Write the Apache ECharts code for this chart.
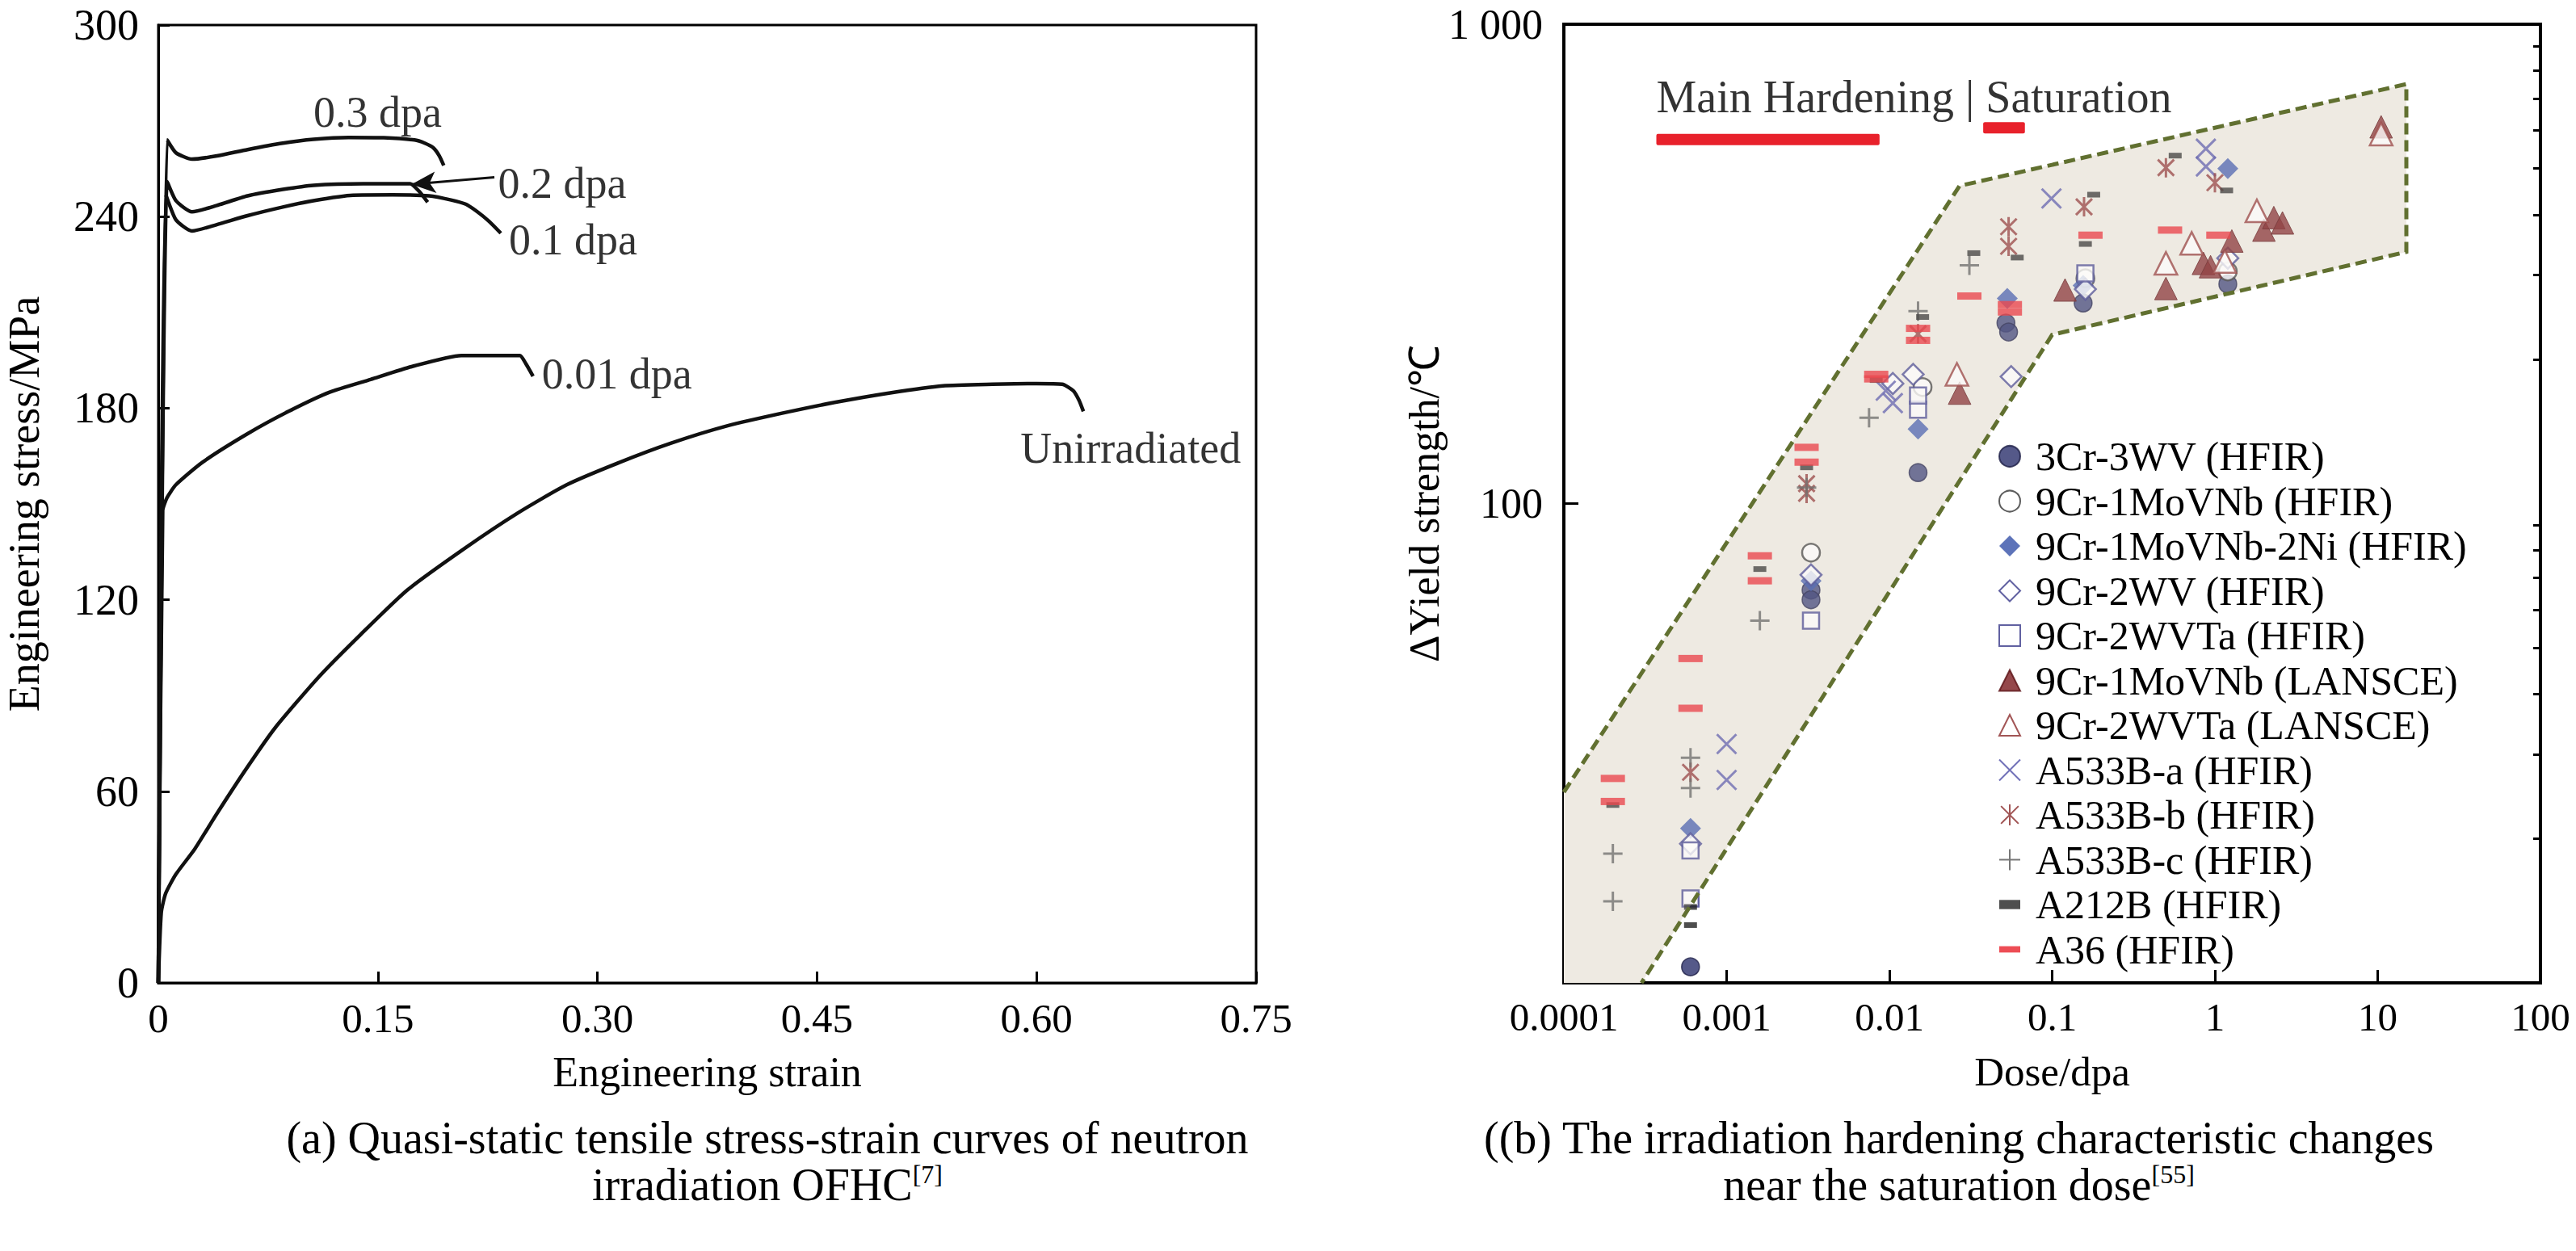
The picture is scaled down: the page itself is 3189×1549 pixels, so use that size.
<!DOCTYPE html>
<html><head><meta charset="utf-8">
<script src="https://cdn.jsdelivr.net/npm/echarts/dist/echarts.min.js"></script>
<style>html,body{margin:0;padding:0;background:#fff;}#c{width:3189px;height:1549px;}</style>
</head><body><div id="c"></div>
<script>
// ================= DATA =================
// (a) stress-strain curves: engineering strain / engineering stress (MPa)
const unirrStrain = [0, 0.002, 0.005, 0.012, 0.025, 0.04, 0.06, 0.08, 0.11, 0.138, 0.17, 0.209, 0.245, 0.279, 0.315, 0.35, 0.389, 0.43, 0.462, 0.5, 0.536, 0.57, 0.6, 0.6175, 0.625, 0.629, 0.632];
const unirrStress = [0, 22, 28, 34, 42, 53, 67, 80, 96, 109, 123, 136, 147, 156, 163, 169, 174.5, 178.8, 181.8, 184.8, 187, 187.5, 187.7, 187.5, 185.5, 182.5, 179];
const dpa001Strain = [0, 0.003, 0.006, 0.012, 0.03, 0.061, 0.089, 0.117, 0.145, 0.173, 0.207, 0.247, 0.251, 0.256];
const dpa001Stress = [0, 148, 152, 156, 163, 172, 179, 185, 189, 193, 196.5, 196.5, 194, 190];
const dpa01Strain = [0, 0.005, 0.012, 0.023, 0.04, 0.061, 0.085, 0.106, 0.133, 0.16, 0.185, 0.2, 0.21, 0.218, 0.226, 0.234];
const dpa01Stress = [0, 247, 239, 235.5, 237.5, 240.3, 243, 245, 246.7, 246.8, 246.5, 245.2, 243.9, 241.5, 238.5, 234.8];
const dpa02Strain = [0, 0.006, 0.012, 0.023, 0.04, 0.061, 0.085, 0.106, 0.14, 0.172, 0.178, 0.184];
const dpa02Stress = [0, 251, 245, 241.5, 243.5, 246.5, 248.5, 249.8, 250.3, 250.3, 248, 244.5];
const dpa03Strain = [0, 0.006, 0.012, 0.023, 0.04, 0.061, 0.085, 0.106, 0.13, 0.154, 0.175, 0.182, 0.188, 0.192, 0.195];
const dpa03Stress = [0, 264, 260, 258, 259, 261, 263, 264.2, 264.8, 264.7, 264, 263, 261.5, 259, 256];
const strainTickLabels = ['0', '0.15', '0.30', '0.45', '0.60', '0.75'];
const stressTickLabels = ['0', '60', '120', '180', '240', '300'];
const curveLabels = ['0.3 dpa', '0.2 dpa', '0.1 dpa', '0.01 dpa', 'Unirradiated'];
const curveLabelPos = [[0.106, 272.8], [0.232, 250.4], [0.2395, 232.6], [0.262, 190.7], [0.589, 167.5]];
const arrowFrom = [0.2296, 252.3];
const arrowTo = [0.173, 250.1];

// (b) irradiation hardening: dose (dpa) / delta yield strength
const s3Cr3WV = [[0.0006, 10.8], [0.0033, 66], [0.0033, 63], [0.015, 116], [0.052, 238], [0.054, 228], [0.155, 262], [1.2, 287]];
const s9Cr1MoVNb = [[0.0033, 79], [0.016, 175], [0.16, 295], [1.2, 305]];
const s9Cr1MoVNb2Ni = [[0.0006, 21], [0.0033, 69], [0.015, 143], [0.053, 268], [0.155, 285], [1.2, 500]];
const s9Cr2WV = [[0.0006, 19.5], [0.0033, 71], [0.0105, 178], [0.014, 186], [0.056, 184], [0.16, 280], [1.2, 325]];
const s9Cr2WVTa = [[0.0006, 18.9], [0.0006, 15], [0.0033, 57], [0.015, 157], [0.015, 168], [0.16, 302]];
const s9Cr1MoVNbL = [[0.027, 170], [0.12, 279], [0.5, 281], [0.85, 317], [0.94, 312], [1.27, 353], [2.0, 372], [2.3, 395], [2.6, 385], [10.5, 611]];
const s9Cr2WVTaL = [[0.026, 186], [0.5, 317], [0.72, 349], [1.15, 320], [1.81, 408], [10.5, 590]];
const sA533Ba = [[0.001, 31.5], [0.001, 26.5], [0.0095, 172], [0.0105, 162], [0.099, 433], [0.88, 550], [0.88, 505]];
const sA533Bb = [[0.0006, 27.5], [0.0031, 110], [0.0031, 105], [0.015, 226], [0.054, 378], [0.054, 344], [0.157, 416], [0.5, 502], [1.0, 467]];
const sA533Bc = [[0.0002, 18.6], [0.0002, 14.8], [0.0006, 29.5], [0.0006, 25.5], [0.0016, 57], [0.0031, 108], [0.0075, 151], [0.015, 252], [0.031, 314]];
const sA212B = [[0.0002, 23.5], [0.0006, 14.4], [0.0006, 13.2], [0.0016, 73], [0.0031, 119], [0.0083, 181], [0.016, 245], [0.033, 333], [0.061, 326], [0.16, 348], [0.18, 441], [0.57, 532], [1.18, 450]];
const sA36 = [[0.0002, 26.7], [0.0002, 23.9], [0.0006, 47.5], [0.0006, 37.4], [0.0016, 77.8], [0.0016, 69], [0.0031, 131], [0.0031, 122], [0.0083, 186], [0.0083, 182], [0.015, 232], [0.015, 219], [0.031, 271], [0.055, 260], [0.055, 251], [0.172, 363], [0.53, 372], [1.05, 363]];
const legendNames = ['3Cr-3WV (HFIR)', '9Cr-1MoVNb (HFIR)', '9Cr-1MoVNb-2Ni (HFIR)', '9Cr-2WV (HFIR)', '9Cr-2WVTa (HFIR)', '9Cr-1MoVNb (LANSCE)', '9Cr-2WVTa (LANSCE)', 'A533B-a (HFIR)', 'A533B-b (HFIR)', 'A533B-c (HFIR)', 'A212B (HFIR)', 'A36 (HFIR)'];
const bandDose = [0.0001, 0.027, 15, 15, 0.1, 0.0003, 0.0001];
const bandYield = [25, 460, 750, 335, 225, 10, 10];
const phaseText = 'Main Hardening | Saturation';
const phaseTextPos = [0.00037, 706];
const phaseBarFrom = [0.00037, 0.0377];
const phaseBarTo = [0.0087, 0.068];
const phaseBarY = [575, 608];
const doseTickLabels = ['0.0001', '0.001', '0.01', '0.1', '1', '10', '100'];
const yieldTickLabels = ['', '100', '1 000'];
const yieldMinorTicks = [20, 30, 40, 50, 60, 70, 80, 90, 200, 300, 400, 500, 600, 700, 800, 900];
const captionA = '(a) Quasi-static tensile stress-strain curves of neutron\nirradiation OFHC{sup|[7]}';
const captionB = '((b) The irradiation hardening characteristic changes\nnear the saturation dose{sup|[55]}';

// ================= STYLE / CHART =================
const FONT = "'Liberation Serif', 'Times New Roman', serif";
const INK = '#000000';
const chart = echarts.init(document.getElementById('c'), null, {renderer: 'svg'});
const txt = (size) => ({color: INK, fontFamily: FONT, fontSize: size});

function curve(name, xs, ys, extra) {
  return Object.assign({
    name, type: 'line', xAxisIndex: 0, yAxisIndex: 0,
    data: xs.map((x, i) => [x, ys[i]]),
    showSymbol: false, symbol: 'none', smooth: 0.2,
    lineStyle: {color: '#111', width: 4.5}, z: 3, silent: true
  }, extra || {});
}

const X_PATH = 'path://M0,0L10,10M10,0L0,10';
const AST_PATH = 'path://M0,0L10,10M10,0L0,10M5,-1L5,11';
const PLUS_PATH = 'path://M5,0L5,10M0,5L10,5';
const DASH_PATH = 'path://M0,0L30,0L30,9L0,9Z';
const SDASH_PATH = 'path://M0,0L16,0L16,7L0,7Z';

function pts(name, data, symbol, size, itemStyle) {
  return {name, type: 'scatter', xAxisIndex: 1, yAxisIndex: 1, data, symbol, symbolSize: size,
    symbolKeepAspect: true, itemStyle, z: 2, silent: true};
}
const NONE = 'rgba(0,0,0,0)';

function bandPoints(api, n) {
  const p = [];
  for (let i = 0; i < n; i++) p.push(api.coord([bandDose[i], bandYield[i]]));
  return p;
}

const option = {
  animation: false,
  backgroundColor: '#fff',
  grid: [
    {left: 196, top: 31, width: 1359, height: 1186, show: true, borderColor: INK, borderWidth: 3},
    {left: 1936, top: 30, width: 1209, height: 1187, show: true, borderColor: INK, borderWidth: 4}
  ],
  xAxis: [
    {type: 'value', gridIndex: 0, min: 0, max: 0.75, interval: 0.15,
     axisLine: {lineStyle: {color: INK, width: 3}},
     axisTick: {inside: true, length: 14, lineStyle: {color: INK, width: 3}},
     axisLabel: Object.assign(txt(51), {margin: 18, formatter: (v, i) => strainTickLabels[i]}),
     splitLine: {show: false},
     name: 'Engineering strain', nameLocation: 'middle', nameGap: 84, nameTextStyle: txt(52)},
    {type: 'log', logBase: 10, gridIndex: 1, min: 0.0001, max: 100,
     axisLine: {lineStyle: {color: INK, width: 4}},
     axisTick: {inside: true, length: 16, lineStyle: {color: INK, width: 3}},
     axisLabel: Object.assign(txt(49), {margin: 18, formatter: (v, i) => doseTickLabels[i]}),
     splitLine: {show: false},
     name: 'Dose/dpa', nameLocation: 'middle', nameGap: 84, nameTextStyle: txt(51)}
  ],
  yAxis: [
    {type: 'value', gridIndex: 0, min: 0, max: 300, interval: 60,
     axisLine: {lineStyle: {color: INK, width: 3}},
     axisTick: {inside: true, length: 14, lineStyle: {color: INK, width: 3}},
     axisLabel: Object.assign(txt(54), {margin: 24, formatter: (v, i) => stressTickLabels[i]}),
     splitLine: {show: false},
     name: 'Engineering stress/MPa', nameLocation: 'middle', nameGap: 139, nameTextStyle: txt(54)},
    {type: 'log', logBase: 10, gridIndex: 1, min: 10, max: 1000,
     axisLine: {lineStyle: {color: INK, width: 4}},
     axisTick: {inside: true, length: 18, lineStyle: {color: INK, width: 3}},
     axisLabel: Object.assign(txt(52), {margin: 26, formatter: (v, i) => yieldTickLabels[i]}),
     splitLine: {show: false},
     name: 'ΔYield strength/℃', nameLocation: 'middle', nameGap: 140, nameTextStyle: txt(52)},
    {type: 'log', logBase: 10, gridIndex: 1, min: 10, max: 1000,
     axisLine: {show: false}, axisLabel: {show: false}, splitLine: {show: false},
     axisTick: {show: true, inside: true, length: 9, customValues: yieldMinorTicks, lineStyle: {color: INK, width: 3}}}
  ],
  legend: {
    orient: 'vertical', left: 2469, top: 535, itemWidth: 26, itemHeight: 26, itemGap: 5.5,
    data: legendNames, selectedMode: false,
    textStyle: Object.assign(txt(50), {lineHeight: 48, padding: [0, 0, 0, 14]})
  },
  graphic: [
    {type: 'text', x: 950, y: 1380, silent: true,
     style: {text: captionA, align: 'center', verticalAlign: 'top', fontSize: 56, lineHeight: 58, fontFamily: FONT, fill: INK,
             rich: {sup: {fontSize: 32, lineHeight: 58, verticalAlign: 'top', fontFamily: FONT, fill: INK, padding: [0, 0, 14, 0]}}}},
    {type: 'text', x: 2425, y: 1380, silent: true,
     style: {text: captionB, align: 'center', verticalAlign: 'top', fontSize: 56, lineHeight: 58, fontFamily: FONT, fill: INK,
             rich: {sup: {fontSize: 32, lineHeight: 58, verticalAlign: 'top', fontFamily: FONT, fill: INK, padding: [0, 0, 14, 0]}}}}
  ],
  series: [
    curve('Unirradiated', unirrStrain, unirrStress),
    curve('0.01 dpa', dpa001Strain, dpa001Stress),
    curve('0.1 dpa', dpa01Strain, dpa01Stress),
    curve('0.2 dpa', dpa02Strain, dpa02Stress, {
      markLine: {silent: true, symbol: ['none', 'arrow'], symbolSize: [20, 30],
        lineStyle: {color: '#111', width: 3, type: 'solid'}, label: {show: false},
        data: [[{coord: arrowFrom}, {coord: arrowTo}]]}
    }),
    curve('0.3 dpa', dpa03Strain, dpa03Stress),
    {type: 'scatter', xAxisIndex: 0, yAxisIndex: 0, symbolSize: 0, silent: true, z: 4,
     data: curveLabelPos.map((p, i) => ({value: p, name: curveLabels[i]})),
     label: Object.assign(txt(54), {show: true, position: 'right', distance: 0, formatter: p => p.name})},

    // band fill (below points)
    {type: 'custom', xAxisIndex: 1, yAxisIndex: 1, data: [[0.0001, 10]], z: 1, silent: true,
     renderItem: (params, api) => ({type: 'polygon', shape: {points: bandPoints(api, 7)}, style: {fill: '#eeeae3'}})},

    pts(legendNames[0], s3Cr3WV, 'circle', 22, {color: '#2b2f6b', borderColor: '#1c1d45', borderWidth: 1.5}),
    pts(legendNames[1], s9Cr1MoVNb, 'circle', 22, {color: '#fff', borderColor: '#333', borderWidth: 2.5}),
    pts(legendNames[2], s9Cr1MoVNb2Ni, 'diamond', 26, {color: '#3450a8'}),
    pts(legendNames[3], s9Cr2WV, 'diamond', 26, {color: '#fff', borderColor: '#3a3a8a', borderWidth: 2.5}),
    pts(legendNames[4], s9Cr2WVTa, 'rect', 20, {color: '#fff', borderColor: '#3a3a8a', borderWidth: 2.5}),
    pts(legendNames[5], s9Cr1MoVNbL, 'triangle', 28, {color: '#7a1a1e', borderColor: '#5a1014', borderWidth: 1}),
    pts(legendNames[6], s9Cr2WVTaL, 'triangle', 28, {color: '#fff', borderColor: '#8b2a2a', borderWidth: 2.5}),
    pts(legendNames[7], sA533Ba, X_PATH, 24, {color: NONE, borderColor: '#4e4ea6', borderWidth: 3}),
    pts(legendNames[8], sA533Bb, AST_PATH, 24, {color: NONE, borderColor: '#8a2b2b', borderWidth: 3}),
    pts(legendNames[9], sA533Bc, PLUS_PATH, 24, {color: NONE, borderColor: '#555', borderWidth: 3}),
    pts(legendNames[10], sA212B, SDASH_PATH, 16, {color: '#222'}),
    pts(legendNames[11], sA36, DASH_PATH, 30, {color: '#e8212b'}),

    // band veil + dashed boundary (above points)
    {type: 'custom', xAxisIndex: 1, yAxisIndex: 1, data: [[0.0001, 10]], z: 5, silent: true,
     renderItem: (params, api) => ({type: 'group', children: [
       {type: 'polygon', shape: {points: bandPoints(api, 7)}, style: {fill: 'rgba(238,234,227,0.2)'}},
       {type: 'polyline', shape: {points: bandPoints(api, 6)}, style: {fill: null, stroke: '#617030', lineWidth: 5, lineDash: [14, 7]}}
     ]})},
    // phase bars
    {type: 'custom', xAxisIndex: 1, yAxisIndex: 1, z: 6, silent: true,
     data: phaseBarFrom.map((x, i) => [x, phaseBarTo[i], phaseBarY[i]]),
     encode: {x: [0, 1], y: 2},
     renderItem: (params, api) => {
       const a = api.coord([api.value(0), api.value(2)]);
       const b = api.coord([api.value(1), api.value(2)]);
       return {type: 'rect', shape: {x: a[0], y: a[1] - 7, width: b[0] - a[0], height: 14, r: 2}, style: {fill: '#e8212b'}};
     }},
    {type: 'scatter', xAxisIndex: 1, yAxisIndex: 1, symbolSize: 0, silent: true, z: 6,
     data: [{value: phaseTextPos, name: phaseText}],
     label: Object.assign(txt(56), {show: true, position: 'right', distance: 0, formatter: p => p.name})}
  ]
};
chart.setOption(option);
</script></body></html>
